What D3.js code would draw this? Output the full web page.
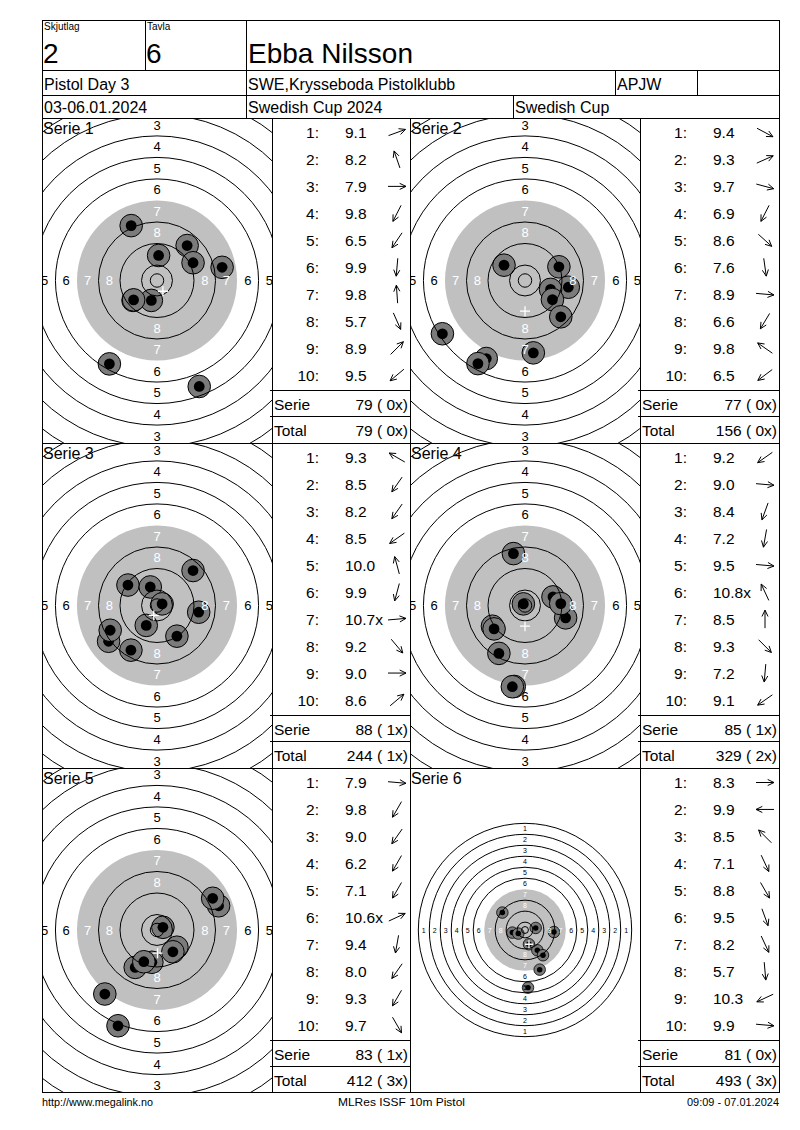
<!DOCTYPE html>
<html>
<head>
<meta charset="utf-8">
<script src="https://cdn.jsdelivr.net/npm/d3@7"></script>
<style>
  body { margin: 0; background: #fff; }
  text { font-family: "Liberation Sans", Arial, sans-serif; fill: #000; }
</style>
</head>
<body>
<svg id="card" width="800" height="1130"></svg>
<script>
// ---- header / footer text ----
const squad = "2"
const lane = "6"
const shooterName = "Ebba Nilsson"
const eventName = "Pistol Day 3"
const clubName = "SWE,Krysseboda Pistolklubb"
const classCode = "APJW"
const dates = "03-06.01.2024"
const cupName = "Swedish Cup 2024"
const cupShort = "Swedish Cup"
const footerLeft = "http://www.megalink.no"
const footerMid = "MLRes ISSF 10m Pistol"
const footerRight = "09:09 - 07.01.2024"

// ---- series data ----
const seriesNames = ["Serie 1", "Serie 2", "Serie 3", "Serie 4", "Serie 5", "Serie 6"]

const shotScores = [
  [9.1, 8.2, 7.9, 9.8, 6.5, 9.9, 9.8, 5.7, 8.9, 9.5],
  [9.4, 9.3, 9.7, 6.9, 8.6, 7.6, 8.9, 6.6, 9.8, 6.5],
  [9.3, 8.5, 8.2, 8.5, 10.0, 9.9, 10.7, 9.2, 9.0, 8.6],
  [9.2, 9.0, 8.4, 7.2, 9.5, 10.8, 8.5, 9.3, 7.2, 9.1],
  [7.9, 9.8, 9.0, 6.2, 7.1, 10.6, 9.4, 8.0, 9.3, 9.7],
  [8.3, 9.9, 8.5, 7.1, 8.8, 9.5, 8.2, 5.7, 10.3, 9.9]
]
// index of shots that hit the inner ten (marked "x")
const innerTens = [[], [], [6], [5], [5], []]

// arrow direction of each shot, degrees clockwise from 12 o'clock
const shotArrows = [
  [70, 341, 90, 207, 214, 185, 356, 156, 45, 230],
  [118, 66, 105, 207, 132, 172, 95, 211, 305, 233],
  [300, 215, 215, 235, 345, 195, 85, 140, 90, 50],
  [235, 95, 200, 190, 95, 335, 0, 135, 185, 235],
  [95, 210, 215, 210, 210, 65, 190, 215, 210, 150],
  [90, 270, 315, 155, 150, 160, 155, 175, 245, 95]
]

// shot holes on the target, mm from centre (x right, y up)
const shotX = [
  [-9.6, 11.2, 0.6, 13.4, 24.2, -8.9, -2.1, -17.7, 15.7, -8.7],
  [-7.8, 12.6, 16.1, 9.5, 10.2, 13.3, -30.7, 3.1, -14.4, -17.5],
  [13.4, -10.8, -2.5, 1.9, 15.5, -4.0, 7.4, -18.0, -17.4, -9.7],
  [-4.3, -0.6, 10.4, 15.1, 13.3, -12.1, -11.5, -9.7, -4.0, -4.7],
  [22.9, 20.7, 2.2, 7.4, 5.9, -1.9, -8.1, -4.9, -19.4, -14.5],
  [-16.5, 7.8, -9.2, -4.9, 21.1, 2.9, 9.0, 13.1, 10.7, 2.2]
]
const shotY = [
  [20.4, 13.0, 9.3, 6.6, 4.9, -7.4, -7.4, -31.0, -39.4, -7.2],
  [5.7, 5.1, -2.5, -3.3, -7.1, -13.5, -19.8, -26.9, -29.0, -30.9],
  [13.0, 7.6, 6.9, 0.6, -2.5, -7.4, -11.4, -13.3, -9.2, -16.6],
  [19.3, 0.6, 3.2, -4.6, 0.7, -7.7, -8.7, -17.8, -30.1, -30.2],
  [9.0, 11.8, 1.0, -6.4, -8.1, -12.0, -13.9, -11.8, -23.8, -35.6],
  [12.7, 1.5, -1.9, -2.6, -1.5, -10.4, -14.8, -18.4, -28.9, -42.0]
]
// mean point of impact ("+")
const mpiX = [2.2, 0.0, -1.2, 0.0, 0.2, 2.9]
const mpiY = [-4.0, -11.4, -3.7, -7.7, -8.6, -10.4]

const serieScore = [79, 77, 88, 85, 83, 81]
const serieInner = [0, 0, 1, 1, 1, 0]
const totalScore = [79, 156, 244, 329, 412, 493]
const totalInner = [0, 0, 1, 2, 3, 3]

// ISSF 10m pistol target, ring values and outer radius of each ring (mm)
const ringValues = [1, 2, 3, 4, 5, 6, 7, 8, 9, 10]
const ringRadius = [77.75, 69.75, 61.75, 53.75, 45.75, 37.75, 29.75, 21.75, 13.75, 5.75]
const innerTenRadius = 2.5
const labelRings = [1, 2, 3, 4, 5, 6, 7, 8]

// ---- layout ----
const left = 42, right = 779
const rowTops = [118, 443, 768]
const rowBottom = 1092
const targetCols = [42, 410]
const scoreCols = [272, 640]
const targetW = 230
const scoreW = [138, 139]

const svg = d3.select("#card")
const fmt = d3.format(".1f")

// Grid lines
const hLines = [[20, left, right], [70, left, right], [95, left, right], [118, left, right],
  [443, left, right], [768, left, right], [rowBottom, left, right]]
const vLines = [[left, 20, rowBottom], [right, 20, rowBottom], [145, 20, 70], [246, 20, 118],
  [615, 70, 95], [697, 70, 95], [513, 95, 118], [272, 118, rowBottom], [410, 118, rowBottom], [640, 118, rowBottom]]

// Header texts
const header = svg.append("g")
header.append("text").attr("x", 44).attr("y", 30).attr("font-size", 10).text("Skjutlag")
header.append("text").attr("x", 147).attr("y", 30).attr("font-size", 10).text("Tavla")
header.append("text").attr("x", 43).attr("y", 63).attr("font-size", 28).text(squad)
header.append("text").attr("x", 146).attr("y", 63).attr("font-size", 28).text(lane)
header.append("text").attr("x", 248).attr("y", 63).attr("font-size", 28).text(shooterName)
header.append("text").attr("x", 44).attr("y", 90).attr("font-size", 16).text(eventName)
header.append("text").attr("x", 248).attr("y", 90).attr("font-size", 16).text(clubName)
header.append("text").attr("x", 617).attr("y", 90).attr("font-size", 16).text(classCode)
header.append("text").attr("x", 44).attr("y", 113).attr("font-size", 16).text(dates)
header.append("text").attr("x", 248).attr("y", 113).attr("font-size", 16).text(cupName)
header.append("text").attr("x", 515).attr("y", 113).attr("font-size", 16).text(cupShort)

// Targets
seriesNames.forEach((name, k) => {
  const col = k % 2
  const row = Math.floor(k / 2)
  const x0 = targetCols[col]
  const y0 = rowTops[row]
  const y1 = row < 2 ? rowTops[row + 1] : rowBottom
  const cx = x0 + targetW / 2
  const cy = (y0 + y1) / 2
  const full = k === 5   // last series is shown as the whole target
  const pxPerMm = full ? 1.372 : 2.69

  const x = d3.scaleLinear().domain([0, 1]).range([cx, cx + pxPerMm])
  const y = d3.scaleLinear().domain([0, 1]).range([cy, cy - pxPerMm])
  const r = d3.scaleLinear().domain([0, 1]).range([0, pxPerMm])

  svg.append("clipPath").attr("id", `clip${k}`)
    .append("rect").attr("x", x0 + 1).attr("y", y0 + 1).attr("width", targetW - 1).attr("height", y1 - y0 - 1)

  const g = svg.append("g").attr("clip-path", `url(#clip${k})`)

  // black (here grey) aiming area = ring 7
  g.append("circle")
    .attr("cx", x(0)).attr("cy", y(0))
    .attr("r", r(ringRadius[6]))
    .attr("fill", "#c0c0c0")

  // shot holes
  const shots = shotX[k].map((v, i) => ({ x: v, y: shotY[k][i] }))
  const holes = g.append("g").selectAll("g").data(shots).join("g")
  holes.append("circle")
    .attr("cx", d => x(d.x)).attr("cy", d => y(d.y))
    .attr("r", r(4.2))
    .attr("fill", "#7b7b7b")
    .attr("stroke", "#000").attr("stroke-width", full ? 0.8 : 1)
  holes.append("circle")
    .attr("cx", d => x(d.x)).attr("cy", d => y(d.y))
    .attr("r", r(2.0))
    .attr("fill", "#000")

  // ring lines (ring 7 is the edge of the grey area)
  g.append("g").selectAll("circle")
    .data(ringValues.filter(v => v !== 7))
    .join("circle")
      .attr("cx", x(0)).attr("cy", y(0))
      .attr("r", v => r(ringRadius[v - 1]))
      .attr("fill", "none").attr("stroke", "#000").attr("stroke-width", 1)
  g.append("circle")
    .attr("cx", x(0)).attr("cy", y(0))
    .attr("r", r(innerTenRadius))
    .attr("fill", "none").attr("stroke", "#000").attr("stroke-width", 1)

  // ring numbers on the four axes, only those that reach into the panel
  const labels = []
  labelRings.forEach(v => {
    const m = (ringRadius[v - 1] + ringRadius[v]) / 2
    labels.push({ v, dx: 0, dy: m }, { v, dx: 0, dy: -m }, { v, dx: -m, dy: 0 }, { v, dx: m, dy: 0 })
  })
  const shown = labels.filter(d => {
    const px = x(d.dx), py = y(d.dy)
    return px > x0 && px < x0 + targetW && py > y0 - 2 && py < y1 + 2
  })
  g.append("g").selectAll("text").data(shown).join("text")
    .attr("x", d => x(d.dx)).attr("y", d => y(d.dy))
    .attr("dy", "0.36em")
    .attr("text-anchor", "middle")
    .attr("font-size", full ? 7 : 13)
    .style("fill", d => d.v >= 7 ? "#fff" : "#000")
    .text(d => d.v)

  // mean point of impact
  const arm = full ? 4 : 5
  g.append("path")
    .attr("d", `M${x(mpiX[k]) - arm},${y(mpiY[k])}h${2 * arm}M${x(mpiX[k])},${y(mpiY[k]) - arm}v${2 * arm}`)
    .attr("stroke", "#fff").attr("stroke-width", 1.3)

  svg.append("text")
    .attr("x", x0 + 1).attr("y", y0 + 16)
    .attr("font-size", 16)
    .text(name)
})

// Score columns
seriesNames.forEach((name, k) => {
  const col = k % 2
  const row = Math.floor(k / 2)
  const x0 = scoreCols[col]
  const w = scoreW[col]
  const y0 = rowTops[row]
  const rowY = d3.scaleLinear().domain([0, 9]).range([y0 + 14.5, y0 + 257])

  const rows = shotScores[k].map((v, i) => ({
    i, v, a: shotArrows[k][i], x: innerTens[k].includes(i)
  }))
  const g = svg.append("g").attr("font-size", 15.5)

  g.selectAll("text.num").data(rows).join("text")
    .attr("class", "num")
    .attr("x", x0 + 47).attr("y", d => rowY(d.i)).attr("dy", "0.36em")
    .attr("text-anchor", "end")
    .text(d => `${d.i + 1}:`)

  g.selectAll("text.val").data(rows).join("text")
    .attr("class", "val")
    .attr("x", x0 + 73).attr("y", d => rowY(d.i)).attr("dy", "0.36em")
    .text(d => fmt(d.v) + (d.x ? "x" : ""))

  // direction arrows
  g.selectAll("path.arrow").data(rows).join("path")
    .attr("class", "arrow")
    .attr("fill", "none").attr("stroke", "#000").attr("stroke-width", 1)
    .attr("d", d => {
      const a = d.a * Math.PI / 180
      const ux = Math.sin(a), uy = -Math.cos(a)
      const cx = x0 + 125, cy = rowY(d.i)
      const tx = cx + ux * 9, ty = cy + uy * 9
      const head = (s) => {
        const b = a + Math.PI + s * 0.45
        return `M${tx},${ty}L${tx + Math.sin(b) * 7},${ty - Math.cos(b) * 7}`
      }
      return `M${cx - ux * 9},${cy - uy * 9}L${tx},${ty}` + head(1) + head(-1)
    })

  // serie and total rows
  g.append("line")
    .attr("x1", x0 - 2).attr("x2", x0 + w).attr("y1", y0 + 272.5).attr("y2", y0 + 272.5)
    .attr("stroke", "#000")
  g.append("line")
    .attr("x1", x0 - 2).attr("x2", x0 + w).attr("y1", y0 + 298.5).attr("y2", y0 + 298.5)
    .attr("stroke", "#000")
  g.append("text").attr("x", x0 + 2).attr("y", y0 + 286).attr("dy", "0.36em").text("Serie")
  g.append("text").attr("x", x0 + w - 2).attr("y", y0 + 286).attr("dy", "0.36em")
    .attr("text-anchor", "end").text(`${serieScore[k]} ( ${serieInner[k]}x)`)
  g.append("text").attr("x", x0 + 2).attr("y", y0 + 312).attr("dy", "0.36em").text("Total")
  g.append("text").attr("x", x0 + w - 2).attr("y", y0 + 312).attr("dy", "0.36em")
    .attr("text-anchor", "end").text(`${totalScore[k]} ( ${totalInner[k]}x)`)
})

// grid on top
const grid = svg.append("g")
  .attr("stroke", "#000").attr("stroke-width", 1).attr("shape-rendering", "crispEdges")
grid.selectAll("line.h").data(hLines).join("line")
  .attr("class", "h")
  .attr("x1", d => d[1]).attr("x2", d => d[2] + 1)
  .attr("y1", d => d[0] + 0.5).attr("y2", d => d[0] + 0.5)
grid.selectAll("line.v").data(vLines).join("line")
  .attr("class", "v")
  .attr("x1", d => d[0] + 0.5).attr("x2", d => d[0] + 0.5)
  .attr("y1", d => d[1]).attr("y2", d => d[2] + 1)

// Footer
const foot = svg.append("g").attr("font-size", 11)
foot.append("text").attr("x", left).attr("y", 1106)
  .attr("textLength", 111).attr("lengthAdjust", "spacingAndGlyphs").text(footerLeft)
foot.append("text").attr("x", 338).attr("y", 1106)
  .attr("textLength", 127).attr("lengthAdjust", "spacingAndGlyphs").text(footerMid)
foot.append("text").attr("x", 687).attr("y", 1106)
  .attr("textLength", 92).attr("lengthAdjust", "spacingAndGlyphs").text(footerRight)
</script>
</body>
</html>
